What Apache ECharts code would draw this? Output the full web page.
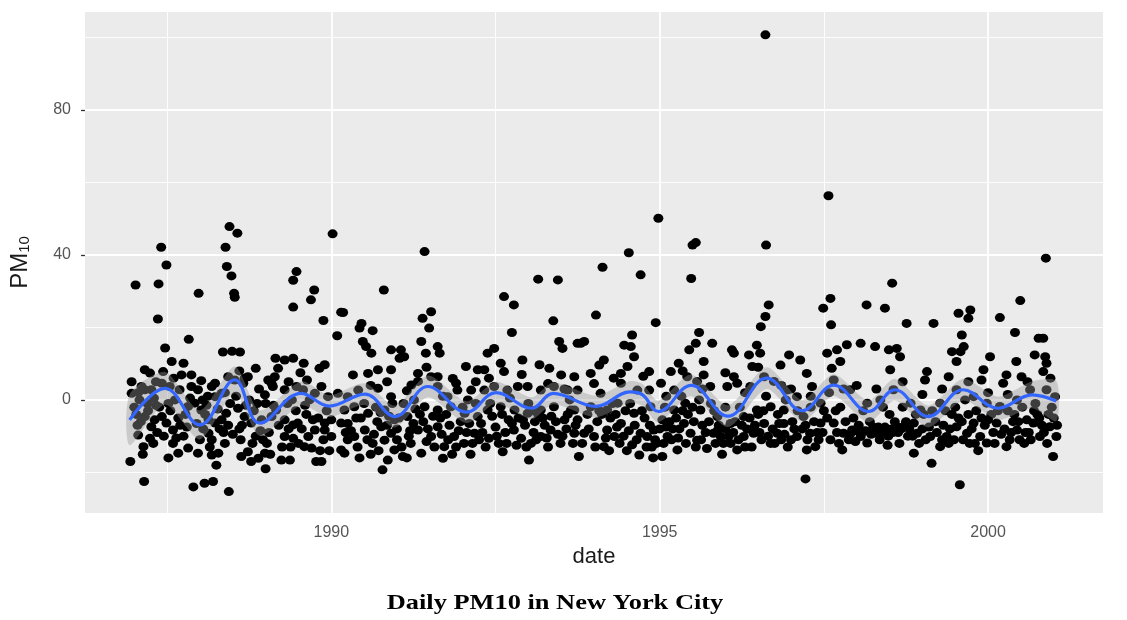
<!DOCTYPE html>
<html>
<head>
<meta charset="utf-8">
<script src="https://cdn.jsdelivr.net/npm/echarts@6/dist/echarts.min.js"></script>
<style>
  html, body { margin: 0; background: #fff; }
  #chart { width: 1127px; height: 620px; }
</style>
</head>
<body>
<div id="chart"></div>
<script>
// PM10 readings [decimal year, value]
const pts1987 = [
  [1987.02,31.7],[1987.37,32],[1987.41,42.1],[1987.49,37.2],[1987.36,22.3],[1987.98,29.4],[1987.83,16.7],
  [1988.45,47.8],[1988.57,46],[1988.39,42.1],[1988.41,36.8],[1988.48,34.2],[1988.52,29.4],[1988.53,28.3],
  [1989.47,35.4],[1989.42,33],[1989.74,30.3],[1989.69,27.6],[1989.42,25.6],[1989.88,21.9],[1990.02,45.8],
  [1990.15,24.2],[1990.09,17.7],
  [1987.47,14.3],[1988.35,13.2],[1988.49,13.4],[1988.61,13.2],[1988.85,8.7],[1987.16,8.3],[1987.24,7.4],
  [1986.96,5],[1986.96,1.8],[1987.57,10.6],[1987.75,10.1],[1987.44,7.8],[1987.72,6.9],[1987.87,6.9],
  [1988.02,5.3],[1988.23,4.6],[1988.68,6],[1989.15,11.5],[1989.29,11],[1989.42,11.5],[1989.19,8.7],
  [1989.58,10.1],[1989.53,7.5],[1989.82,8.7],[1989.9,9.7],[1989.04,5.5],[1989.11,3.7],
  [1986.94,-17],[1987.15,-22.5],[1987.9,-24],[1988.07,-23],[1988.2,-22.5],[1988.44,-25.3],[1987.06,-9.7],
  [1987.14,-12.9],[1987.24,-10.6],[1987.59,-12],[1987.67,-14.7],[1987.82,-13.3],[1987.97,-14.7],
  [1988.18,-15.2],[1988.28,-14.7],[1988.38,-12],[1988.13,-9.2],[1988.18,-11],[1988.63,-15.6],
  [1988.73,-14.3],[1988.78,-17],[1988.89,-16.1],[1988.99,-14.7],[1989.24,-16.6],[1989.37,-16.6],
  [1989.29,-10.1],[1989.42,-10.6],[1989.59,-12.9],[1989.7,-13.3],[1989.77,-17],[1989.85,-17],
  [1989.9,-8.3],[1990.0,-10.1],
  [1987.16,-4.6],[1987.31,-5.5],[1987.42,-4.6],[1987.26,-7.4],[1987.49,-6.4],[1987.59,-8.3],[1987.67,-5],
  [1987.82,-1.8],[1987.92,-0.9],[1988.02,-2.8],[1988.13,-5.5],[1988.23,-6.4],[1988.33,-5.5],[1988.4,-3.7],
  [1988.58,-2.3],[1988.68,-4.6],[1988.78,-6.4],[1988.94,-5.5],[1989.09,-4.6],[1989.16,-2.8],[1989.29,-5.5],
  [1989.42,-6.9],[1989.49,-6.4],[1989.65,-10.1],[1989.75,-8.3],[1989.9,-6.4],[1990.0,-5.5],
  [1987.11,3.7],[1987.16,2.8],[1987.26,2.8],[1987.42,4.6],[1987.54,3.7],[1987.69,2.8],[1987.87,3.7],
  [1987.97,2.8],[1988.18,3.7],[1988.23,0.9],[1988.33,1.8],[1988.43,6.4],[1988.53,5.5],[1988.66,4.6],
  [1988.73,6.4],[1988.99,1.4],[1989.09,4.6],[1989.14,6.4],[1989.29,2.8],[1989.47,3.7],[1989.57,2.8],
  [1989.75,1.8],[1989.85,3.7],[1989.95,0.9],
  [1987.05,-7],[1987.35,-9],[1987.75,-10],[1988.05,-8],[1988.5,-9.5],[1988.6,-8],[1988.85,-10],
  [1989.05,-9],[1989.55,-8],[1989.0,-1],[1988.1,-1.5],[1987.0,-2],
  [1987.1,-6],[1987.2,-1],[1987.3,0.5],[1987.38,-2],[1987.55,-3],[1987.62,0],[1987.78,-4],[1987.95,-6.5],
  [1988.08,-4],[1988.27,-2.5],[1988.36,-9],[1988.46,-1],[1988.55,1],[1988.64,-7],[1988.75,0],[1988.82,-3],
  [1988.92,-8.5],[1989.02,-12],[1989.2,-7],[1989.33,-1],[1989.38,-13],[1989.46,-3],[1989.62,-4],
  [1989.67,0],[1989.8,-5],[1989.88,-11],[1989.97,-14],
  [1987.03,-4],[1987.08,0],[1987.13,-15],[1987.21,-3],[1987.29,-12],[1987.33,-1.5],[1987.45,-10],
  [1987.52,-1],[1987.64,-10.5],[1987.7,-7],[1987.8,-7.5],[1987.85,0.5],[1988.0,-11],[1988.04,0],
  [1988.15,-13],[1988.3,-8],[1988.38,2],[1988.43,-7],[1988.62,-11],[1988.7,-1.5],[1988.8,-12],[1988.87,-1],
  [1988.96,-11],[1989.07,-15],[1989.12,-1.5],[1989.25,-13],[1989.35,-8],[1989.4,0],[1989.5,-12],
  [1989.6,-1.5],[1989.72,-5.5],[1989.83,-14],[1989.93,-3],[1988.25,-18],[1987.52,-16],[1989.0,-19],
  [1987.06,2],[1987.33,5],[1987.6,6],[1988.12,1],[1988.6,8],[1988.9,3],[1989.35,5],[1989.63,5.5]
];

const pts1990 = [
  [1991.42,40.9],[1990.8,30.3],[1993.15,33.3],[1993.45,33.1],[1992.63,28.5],[1992.78,26.2],[1992.75,18.6],
  [1993.38,21.8],[1990.18,24.1],
  [1990.46,21.1],[1990.43,19.8],[1990.63,19.1],[1990.48,16.1],[1990.53,14.7],[1990.61,12.9],
  [1991.39,22.5],[1991.52,24.3],[1991.49,19.8],[1991.37,16.1],[1991.44,12.9],[1991.62,14.7],[1991.65,12.9],
  [1990.91,13.8],[1991.06,13.8],[1991.11,11.9],[1991.04,11.5],
  [1990.33,6.9],[1990.56,7.3],[1990.71,8.3],[1990.91,8.3],
  [1991.32,7.3],[1991.22,4.1],[1991.62,6.4],[1991.85,5.9],[1991.9,4.6],[1992.05,9.2],[1992.23,8.3],[1992.33,8.3],
  [1992.38,12.9],[1992.48,14.2],[1992.58,10.1],[1992.63,7.8],[1992.91,11],
  [1993.17,9.7],[1993.32,8.7],[1993.5,6.9],[1993.7,6.4],
  [1993.47,16.1],[1993.52,14.2],[1993.75,15.6],
  [1990.1,1.8],[1990.25,0.9],[1990.41,2.7],[1990.71,3.2],[1990.91,0.9],[1991.32,5.1],[1991.52,6.4],[1991.62,3.7],
  [1991.77,0.9],[1991.92,2.7],[1992.13,2.7],[1992.33,2.7],[1992.48,3.7],[1992.68,2.7],[1992.84,3.7],
  [1992.99,3.7],[1993.19,2.7],[1993.39,3.7],[1993.6,2.7],
  [1990.2,-2.8],[1990.35,-1.9],[1990.56,-3.7],[1990.81,-2.8],[1990.96,-5.5],[1991.16,-4.6],[1991.42,-1.9],
  [1991.62,-2.8],[1991.82,-1.9],[1992.03,-3.7],[1992.23,-4.6],[1992.38,-2.8],[1992.58,-1.9],[1992.79,-2.8],
  [1992.99,-3.7],[1993.19,-2.8],[1993.39,-1.9],[1993.65,-2.8],
  [1990.15,-6.4],[1990.15,-13.8],[1990.25,-11],
  [1990.25,-6.5],[1990.35,-10.1],[1990.2,-14.7],[1990.51,-8.3],[1990.63,-12],[1990.76,-7.4],[1990.81,-11.1],
  [1990.91,-9.2],[1990.96,-13.8],[1990.86,-16.6],[1990.78,-19.3],[1991.09,-15.6],[1991.21,-12],
  [1991.37,-14.7],[1991.32,-8.3],[1991.52,-10.1],[1991.62,-7.4],[1991.72,-12.9],[1991.7,-16.1],
  [1991.87,-10.1],[1992.02,-12],[1992.18,-9.2],[1992.28,-6.5],[1992.4,-10.6],[1992.61,-14.3],
  [1992.78,-8.3],[1992.89,-10.6],[1993.01,-16.6],[1993.04,-12],[1993.19,-10.1],[1993.34,-8.3],
  [1993.49,-12],[1993.7,-9.2],
  [1990.45,-5],[1990.7,-6],[1991.0,-8],[1991.25,-6.5],[1991.45,-11.5],[1991.8,-7],[1992.1,-6.5],
  [1992.5,-7.5],[1992.7,-5.5],[1992.95,-7],[1993.1,-6],[1993.3,-13],[1993.55,-5.5],[1990.6,-15],[1991.15,-16],
  [1990.3,-8.5],[1990.4,-13],[1990.5,-1],[1990.65,-9.5],[1990.75,-3.5],[1990.85,-7],[1991.0,-11],[1991.1,-1],
  [1991.2,-8.5],[1991.28,-2.5],[1991.4,-6],[1991.55,-4.5],[1991.68,-9.5],[1991.75,-4],[1991.9,-13],
  [1991.97,-6],[1992.08,0],[1992.15,-12],[1992.2,-1],[1992.3,-9],[1992.45,-4.5],[1992.55,-12],[1992.65,-9],
  [1992.72,0.5],[1992.85,-5],[1993.0,-1],[1993.08,-9],[1993.15,-4],[1993.25,-7],[1993.35,-4.5],
  [1993.45,-9.5],[1993.58,-8],[1993.63,0],
  [1990.22,-9],[1990.38,-5],[1990.43,-16],[1990.55,-11],[1990.68,-2],[1990.72,-14],[1990.88,-4.5],
  [1990.93,-1],[1991.03,-5],[1991.07,-13],[1991.18,-10],[1991.26,0],[1991.35,-4],[1991.47,-8],[1991.57,-13],
  [1991.66,-5],[1991.78,-11],[1991.84,-15],[1991.94,-8.5],[1992.0,-2],[1992.06,-9],[1992.12,-15],
  [1992.25,-11],[1992.35,-13],[1992.42,-1],[1992.52,-10],[1992.6,-4],[1992.67,-12],[1992.75,-6.5],
  [1992.82,-12.5],[1992.92,-5.5],[1992.97,-13],[1993.06,-3],[1993.12,-11],[1993.22,-5],[1993.28,-10.5],
  [1993.42,-6],[1993.52,-10],[1993.6,-4],[1993.68,-12],
  [1990.6,4],[1990.85,5],[1991.15,2.5],[1991.45,9],[1991.7,1],[1992.2,5],[1992.4,6],[1992.9,7],
  [1993.3,4.5],[1993.55,3]
];

const pts1994 = [
  [1994.98,50.1],[1994.53,40.6],[1994.13,36.6],[1994.71,34.5],[1995.5,42.7],[1995.55,43.4],[1995.48,33.5],
  [1996.62,42.7],[1996.61,100.7],[1994.03,23.4],[1994.94,21.3],[1996.66,26.2],[1996.61,23],[1996.54,20.2],
  [1993.8,15.6],[1993.85,16.1],[1994.58,17.9],[1994.46,15.1],[1994.56,14.7],[1994.61,11.9],[1995.6,18.6],
  [1995.55,15.6],[1995.45,13.8],[1995.8,15.6],[1996.1,13.8],[1996.13,12.9],[1996.48,15.1],[1996.53,12.9],
  [1994.15,11],[1994.08,9.6],[1993.95,7.3],[1994.41,7.3],[1994.51,9.2],[1994.84,7.8],[1995.17,7.8],
  [1995.29,10.1],[1995.67,10.6],[1995.67,6.9],[1996.13,6.4],[1996.36,12.4],[1996.41,9.2],[1996.97,12.4],
  [1997.24,7.3],[1996.84,9.6],
  [1993.75,2.7],[1994.1,1.8],[1994.41,4.6],[1994.66,2.7],[1994.84,2.7],[1995.02,4.6],[1995.22,2.7],
  [1995.42,6.4],[1995.57,5.1],[1995.77,3.7],[1996.03,3.7],[1996.18,4.6],[1996.38,3.7],[1996.59,6.4],
  [1996.74,5.1],[1996.94,2.7],[1997.09,0.9],
  [1993.7,-2.8],[1993.95,-1.9],[1994.2,-2.8],[1994.36,-0.9],[1994.61,-3.7],[1994.86,-1.9],[1995.04,-5.5],
  [1995.22,-2.8],[1995.39,-0.9],[1995.62,-2.8],[1995.88,-4.6],[1996.08,-6.5],[1996.28,-4.6],[1996.48,-2.8],
  [1996.69,-1.9],[1996.89,-2.8],
  [1993.75,-5.5],[1993.85,-9.2],[1993.77,-15.6],[1994.0,-10.1],[1994.15,-12.9],[1994.2,-8.3],[1994.31,-10.1],
  [1994.41,-6.5],[1994.58,-12.4],[1994.69,-15.2],[1994.71,-9.2],[1994.81,-10.1],[1994.91,-8.3],
  [1995.04,-15.6],[1995.12,-10.1],[1995.27,-13.8],[1995.37,-6.5],[1995.47,-9.2],[1995.57,-11.1],
  [1995.72,-13.4],[1995.82,-9.2],[1995.93,-10.1],[1996.08,-12],[1996.18,-13.8],[1996.28,-10.1],
  [1996.43,-9.2],[1996.59,-6.5],[1996.69,-12],[1996.79,-9.2],[1996.89,-6.5],[1997.09,-10.1],
  [1997.24,-13.8],[1997.22,-21.8],
  [1994.25,-5],[1994.5,-14],[1994.95,-12],[1995.3,-8],[1995.15,-6],[1995.65,-7],[1995.95,-15],
  [1996.25,-7],[1996.55,-11],[1996.95,-13],[1994.9,-16],[1996.0,-8],
  [1993.9,-4],[1994.05,-6],[1994.12,-4],[1994.28,-1],[1994.35,-7.5],[1994.45,-10],[1994.55,-1],[1994.62,-7],
  [1994.77,-5],[1994.88,-13],[1995.0,-8],[1995.08,-2],[1995.18,-11],[1995.25,-5],[1995.33,1],[1995.43,-4],
  [1995.52,-6],[1995.6,0],[1995.7,-9],[1995.78,-1],[1995.85,-12],[1995.9,-7],[1996.0,-2],[1996.12,-9],
  [1996.22,-2],[1996.33,-8],[1996.4,-13],[1996.5,-4],[1996.62,1],[1996.72,-8],[1996.8,-4],[1996.85,-11],
  [1996.92,0],[1997.02,-6],[1997.1,-3],
  [1993.72,-7],[1993.82,-12],[1993.92,-8],[1994.02,-13],[1994.08,-3],[1994.18,-10.5],[1994.23,-14],
  [1994.33,-4],[1994.39,-12],[1994.48,-3],[1994.53,-8.5],[1994.65,-11],[1994.73,-3],[1994.8,-13],
  [1994.85,-7],[1994.93,-11],[1995.06,-12],[1995.1,-7.5],[1995.2,-8],[1995.28,-10.5],[1995.35,-3],
  [1995.4,-12],[1995.5,-2],[1995.55,-13],[1995.63,-11],[1995.75,-6],[1995.83,-3],[1995.88,-8.5],
  [1995.97,-12],[1996.05,-10],[1996.15,-6],[1996.2,-11],[1996.3,-13],[1996.37,-5],[1996.45,-7],
  [1996.52,-9],[1996.58,-3],[1996.65,-10],[1996.75,-12],[1996.82,-6.5],[1996.9,-9.5],[1997.0,-11],
  [1997.05,-8],
  [1994.0,4.5],[1994.3,6],[1994.75,6.5],[1995.1,1],[1995.35,8],[1995.65,3],[1996.0,7.5],[1996.3,2],
  [1996.5,9],[1996.85,4],[1997.0,3]
];

const pts1997 = [
  [1997.57,56.3],[2000.88,39.1],[1998.54,32.2],[1997.6,28],[1997.49,25.3],[1997.61,20.7],[1998.15,26.2],
  [1998.43,25.3],[1998.76,21.1],[1999.17,21.1],[2000.49,27.4],[2000.18,22.7],[1999.55,23.9],[1999.73,24.8],
  [1999.7,22.5],[1999.6,17.9],[2000.41,18.6],[2000.77,17],[2000.84,17],[1999.58,13.3],[1999.45,13.3],
  [1999.63,14.7],[1999.52,10.6],[2000.03,11.9],[2000.71,12.4],[2000.87,11.9],[2000.89,10.1],[2000.84,7.8],
  [2000.43,10.6],[2000.51,6.4],[2000.28,6.9],
  [1997.55,12.9],[1997.7,13.8],[1997.85,15.2],[1998.06,15.6],[1998.28,14.7],[1998.49,13.8],[1998.61,14.2],
  [1998.66,11.9],[1998.51,8.3],[1997.75,10.6],[1997.62,8.7],[1997.32,3.7],[1997.14,11],
  [1999.07,7.8],[1999.04,5.5],[1999.4,6.4],[1999.9,5.5],[1999.93,8.3],[2000.23,4.6],
  [1997.45,-0.9],[1997.65,5.5],[1997.9,2.8],[1998.16,-0.9],[1998.36,0],[1998.56,2.8],[1998.82,-0.9],
  [1998.97,-2.8],[1999.27,-0.9],[1999.52,2.8],[1999.78,0.9],[1999.98,-0.9],[2000.18,-1.8],[2000.44,0],
  [2000.64,2.8],[2000.89,2.8],[2001.02,0.9],
  [1997.19,-4.6],[1997.29,-9.2],[1997.37,-12.9],[1997.45,-6.4],[1997.65,-6.4],[1997.78,-13.8],[1997.8,-9.2],
  [1997.93,-8.3],[1998.06,-10.1],[1998.16,-11.9],[1998.31,-9.2],[1998.46,-8.3],[1998.61,-7.4],[1998.71,-7.4],
  [1998.87,-6.4],[1998.92,-9.2],[1998.87,-14.7],[1999.12,-10.1],[1999.14,-17.5],[1999.27,-12.9],
  [1999.37,-10.1],[1999.52,-7.4],[1999.68,-9.2],[1999.78,-6.4],[1999.88,-10.1],[1999.98,-11.9],
  [2000.13,-6.4],[2000.28,-12.9],[2000.44,-8.3],[2000.59,-5.5],[2000.69,-6.4],[2000.79,-10.1],
  [2000.94,-7.4],[2000.99,-15.6],[2001.04,-10.1],[1999.57,-23.4],
  [1997.95,-5],[1998.2,-6],[1998.5,-4],[1998.65,-12],[1999.2,-6],[1999.45,-4],[1999.85,-14],
  [2000.05,-4],[2000.35,-9],[2000.55,-12],[2000.75,-4],[2001.0,-5],
  [1997.22,-7],[1997.3,-2],[1997.4,-9],[1997.5,-3],[1997.58,2],[1997.7,-9],[1997.75,-2],[1997.88,-11],
  [1998.0,-8.5],[1998.1,-3],[1998.25,-7.5],[1998.35,-11],[1998.4,-2],[1998.55,-9],[1998.7,-2],[1998.78,-10],
  [1998.95,-12],[1999.02,-4],[1999.1,-7.5],[1999.32,-7],[1999.4,-12],[1999.5,-2],[1999.6,-6],[1999.65,0],
  [1999.72,-12],[1999.82,-3],[1999.95,-7],[2000.08,-9],[2000.2,-9.5],[2000.3,-3],[2000.38,-6],[2000.48,-11],
  [2000.52,-2],[2000.62,-9],[2000.72,-1],[2000.82,-7],[2000.9,-12],[2000.97,-2],[2001.05,-7],
  [1997.17,-8],[1997.25,-11],[1997.35,-6],[1997.42,-11],[1997.48,-9],[1997.55,-5],[1997.6,-11],
  [1997.68,-3],[1997.73,-12],[1997.83,-6],[1997.9,-9.5],[1997.98,-11.5],[1998.03,-7],[1998.08,-9],
  [1998.13,-8.5],[1998.22,-9.5],[1998.28,-8],[1998.33,-7.5],[1998.38,-9],[1998.43,-7.5],[1998.48,-10],
  [1998.53,-8],[1998.58,-6],[1998.63,-9],[1998.68,-8],[1998.75,-6],[1998.8,-8],[1998.85,-10],[1998.9,-4],
  [1999.0,-8],[1999.05,-11],[1999.15,-3],[1999.22,-9],[1999.3,-11],[1999.35,-3],[1999.42,-8],[1999.48,-11],
  [1999.55,-5],[1999.62,-11],[1999.7,-4],[1999.75,-8],[1999.8,-12],[1999.9,-5],[2000.0,-5.5],[2000.1,-12],
  [2000.15,-3],[2000.25,-8],[2000.33,-11],[2000.4,-4],[2000.46,-6],[2000.57,-9],[2000.65,-11],[2000.7,-3],
  [2000.78,-5],[2000.85,-9],[2000.92,-4],[1998.47,-12.5],
  [1997.3,1],[1997.8,3],[1998.0,4],[1998.3,3],[1998.7,5],[1999.0,1.5],[1999.3,3],[1999.7,5],[2000.0,2],
  [2000.3,1.5],[2000.6,5],[2000.95,6]
];

// loess fit: dates, fitted value, lower and upper confidence bounds
const fitYears = [1986.93, 1987.47, 1988.0, 1988.53, 1988.91, 1989.54, 1989.97, 1990.51, 1990.97,
  1991.47, 1992.06, 1992.51, 1993.05, 1993.38, 1994.03, 1994.55, 1994.74, 1994.98, 1995.48, 1996.04,
  1996.63, 1997.17, 1997.65, 1998.18, 1998.58, 1999.09, 1999.62, 2000.15, 2000.67, 2001.04];
const fitValues = [-5.5, 3.2, -6.9, 5.5, -6.4, 1.8, -1.7, 1.6, -4.6, 3.7, -3.4, 2.0, -2.3, 1.8, -1.8,
  2.2, 1.4, -3.2, 4.0, -4.5, 6.0, -3.0, 4.1, -3.2, 2.8, -4.6, 2.8, -2.3, 1.4, -0.3];
const fitLower = [-12.5, -1.3, -10.9, 1.8, -9.9, -1.5, -4.7, -1.4, -7.6, 0.7, -6.4, -1.0, -5.3, -1.2,
  -4.8, -0.8, -1.6, -6.2, 1.0, -7.5, 3.0, -6.0, 1.1, -6.2, -0.2, -7.6, -0.2, -5.5, -2.3, -5.8];
const fitUpper = [1.5, 7.7, -2.9, 9.2, -2.9, 5.1, 1.3, 4.6, -1.6, 6.7, -0.4, 5.0, 0.7, 4.8, 1.2,
  5.2, 4.4, -0.2, 7.0, -1.5, 9.0, 0.0, 7.1, -0.2, 5.8, -1.6, 5.8, 0.9, 5.1, 5.2];

// axis breaks
const xBreaks = [1990, 1995, 2000];
const xMinor = [1987.5, 1992.5, 1997.5];
const yBreaks = [0, 40, 80];
const yMinor = [-20, 20, 60, 100];

const allPoints = pts1987.concat(pts1990, pts1994, pts1997);
const fitLine = fitYears.map((x, i) => [x, fitValues[i]]);
const bandData = fitYears.map((x, i) => [x, fitLower[i], fitUpper[i]]);

const gridLines = []
  .concat(xBreaks.map(v => ({ xAxis: v, lineStyle: { width: 1.8 } })))
  .concat(xMinor.map(v => ({ xAxis: v, lineStyle: { width: 0.9 } })))
  .concat(yBreaks.map(v => ({ yAxis: v, lineStyle: { width: 1.8 } })))
  .concat(yMinor.map(v => ({ yAxis: v, lineStyle: { width: 0.9 } })));

// confidence ribbon as one polygon through the library's coordinate system
function renderBand(params, api) {
  if (params.dataIndex !== 0) return;
  const upper = bandData.map(d => api.coord([d[0], d[2]]));
  const lower = bandData.map(d => api.coord([d[0], d[1]])).reverse();
  return {
    type: 'polygon',
    shape: { points: upper.concat(lower), smooth: 0.25 },
    style: { fill: 'rgba(153,153,153,0.4)' },
  };
}

const font = 'Liberation Sans, Arial, sans-serif';
const chart = echarts.init(document.getElementById('chart'));

const option = {
  animation: false,
  backgroundColor: '#ffffff',
  graphic: [
    {
      type: 'text',
      x: 555,
      y: 603,
      scaleX: 1.2,
      style: {
        text: 'Daily PM10 in New York City',
        fontFamily: 'Liberation Serif, Times New Roman, serif',
        fontWeight: 'bold',
        fontSize: 22,
        fill: '#000',
        align: 'center',
        verticalAlign: 'middle',
      },
    },
  ],
  grid: {
    left: 83,
    right: 24,
    top: 12,
    bottom: 107,
    show: true,
    backgroundColor: '#EBEBEB',
    borderWidth: 0,
  },
  xAxis: {
    type: 'value',
    min: 1986.25,
    max: 2001.75,
    name: 'date',
    nameLocation: 'middle',
    nameGap: 33,
    nameTextStyle: { fontFamily: font, fontSize: 22, color: '#1a1a1a' },
    axisLine: { show: false },
    axisTick: { show: true, length: 4, customValues: xBreaks, lineStyle: { color: '#333', width: 1.3 } },
    axisLabel: {
      customValues: xBreaks,
      formatter: v => String(v),
      color: '#555',
      fontFamily: font,
      fontSize: 16,
      margin: 12,
    },
    splitLine: { show: false },
  },
  yAxis: {
    type: 'value',
    min: -31.2,
    max: 107,
    name: '{pm|PM}{sub|10}',
    nameLocation: 'middle',
    nameRotate: 90,
    nameGap: 53,
    nameTextStyle: {
      rich: {
        pm: { fontFamily: font, fontSize: 24, color: '#1a1a1a', verticalAlign: 'bottom' },
        sub: { fontFamily: font, fontSize: 15, color: '#1a1a1a', verticalAlign: 'bottom' },
      },
    },
    axisLine: { show: false },
    axisTick: { show: true, length: 4, customValues: yBreaks, lineStyle: { color: '#333', width: 1.3 } },
    axisLabel: {
      customValues: yBreaks,
      formatter: v => String(v),
      color: '#555',
      fontFamily: font,
      fontSize: 16,
      margin: 14,
    },
    splitLine: { show: false },
  },
  series: [
    {
      // white panel grid
      type: 'line',
      data: [],
      silent: true,
      z: 1,
      markLine: {
        z: 1,
        silent: true,
        symbol: 'none',
        label: { show: false },
        lineStyle: { color: '#ffffff', type: 'solid' },
        data: gridLines,
      },
    },
    {
      type: 'scatter',
      data: allPoints,
      symbol: 'circle',
      symbolSize: [10, 9],
      itemStyle: { color: '#000000', opacity: 1 },
      z: 2,
    },
    {
      type: 'custom',
      data: bandData,
      renderItem: renderBand,
      silent: true,
      clip: true,
      z: 3,
    },
    {
      type: 'line',
      data: fitLine,
      smooth: 0.4,
      symbol: 'none',
      lineStyle: { color: '#3366FF', width: 3.2 },
      z: 4,
    },
  ],
};
chart.setOption(option);
</script>
</body>
</html>
